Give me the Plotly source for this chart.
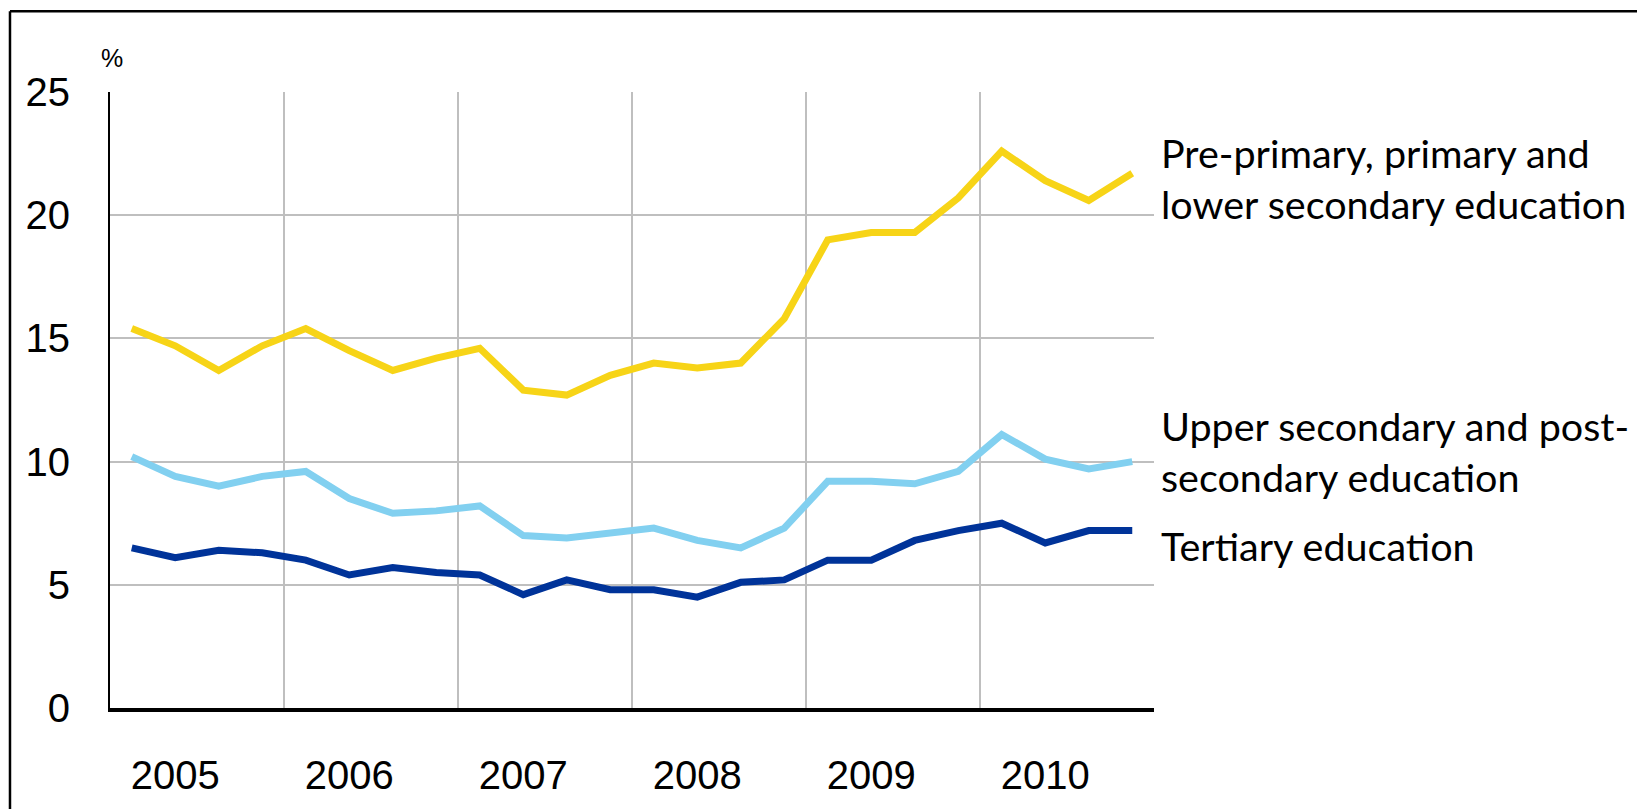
import plotly.graph_objects as go

years = [2005, 2006, 2007, 2008, 2009, 2010]
quarters = [f"{y}Q{q}" for y in years for q in range(1, 5)]

primary = [15.4, 14.7, 13.7, 14.7, 15.4, 14.5, 13.7, 14.2, 14.6, 12.9, 12.7, 13.5,
           14.0, 13.8, 14.0, 15.8, 19.0, 19.3, 19.3, 20.7, 22.6, 21.4, 20.6, 21.7]
upper_secondary = [10.2, 9.4, 9.0, 9.4, 9.6, 8.5, 7.9, 8.0, 8.2, 7.0, 6.9, 7.1,
                   7.3, 6.8, 6.5, 7.3, 9.2, 9.2, 9.1, 9.6, 11.1, 10.1, 9.7, 10.0]
tertiary = [6.5, 6.1, 6.4, 6.3, 6.0, 5.4, 5.7, 5.5, 5.4, 4.6, 5.2, 4.8,
            4.8, 4.5, 5.1, 5.2, 6.0, 6.0, 6.8, 7.2, 7.5, 6.7, 7.2, 7.2]

series_names = ["Pre-primary, primary and<br>lower secondary education",
                "Upper secondary and post-<br>secondary education",
                "Tertiary education"]
series_colors = ["#F7D417", "#82D0F0", "#003399"]
label_y = [21.5, 10.45, 6.6]

x = list(range(len(quarters)))

fig = go.Figure()
for vals, name, col in zip([primary, upper_secondary, tertiary], series_names, series_colors):
    fig.add_trace(go.Scatter(x=x, y=vals, mode="lines", name=name.replace("<br>", " "),
                             line=dict(color=col, width=7), hoverinfo="skip",
                             customdata=quarters))

year_centers = [quarters.index(f"{y}Q2") for y in years]
year_bounds = [quarters.index(f"{y}Q4") + 0.5 for y in years]

fig.update_layout(
    width=1637, height=809,
    margin=dict(l=110, r=483, t=92, b=101, autoexpand=False),
    paper_bgcolor="white", plot_bgcolor="white",
    showlegend=False,
    font=dict(family="Arial, Liberation Sans, sans-serif", color="black", size=40),
    xaxis=dict(range=[-0.5, 23.5], tickvals=year_centers, ticktext=[str(y) for y in years],
               showgrid=False, zeroline=False, ticks="", ticklabelstandoff=29,
               automargin=False,
               showline=True, linecolor="black", linewidth=4,
               tickfont=dict(size=40, family="Arial, Liberation Sans, sans-serif"),
               minor=dict(tickvals=year_bounds, showgrid=True, gridcolor="#BFBFBF",
                          gridwidth=1.5, ticks="")),
    yaxis=dict(range=[0, 25], dtick=5, showgrid=True, gridcolor="#BFBFBF", gridwidth=1.5,
               zeroline=False, ticks="", ticklabelstandoff=30, automargin=False,
               showline=True, linecolor="black", linewidth=2,
               tickfont=dict(size=40, family="Arial, Liberation Sans, sans-serif")),
)

for name, ly in zip(series_names, label_y):
    fig.add_annotation(text=name, xref="paper", yref="y", x=1.005, y=ly,
                       xanchor="left", yanchor="middle", align="left", showarrow=False,
                       font=dict(family="Lato, sans-serif", size=39.5, color="black"))

fig.add_annotation(text="%", xref="paper", yref="paper", x=0.002, y=1.056,
                   xanchor="center", yanchor="middle", showarrow=False,
                   font=dict(size=25, family="Arial, Liberation Sans, sans-serif"))

# outer frame (top and left edges)
fig.add_shape(type="line", xref="paper", yref="paper", x0=-0.0958, x1=1.47, y0=1.1309, y1=1.1309,
              line=dict(color="black", width=2.5))
fig.add_shape(type="line", xref="paper", yref="paper", x0=-0.0958, x1=-0.0958, y0=1.1309, y1=-0.2,
              line=dict(color="black", width=2.5))

fig.write_html("out.html", config={"displayModeBar": False},
               post_script="document.body.style.margin='0';document.body.style.overflow='hidden';")
